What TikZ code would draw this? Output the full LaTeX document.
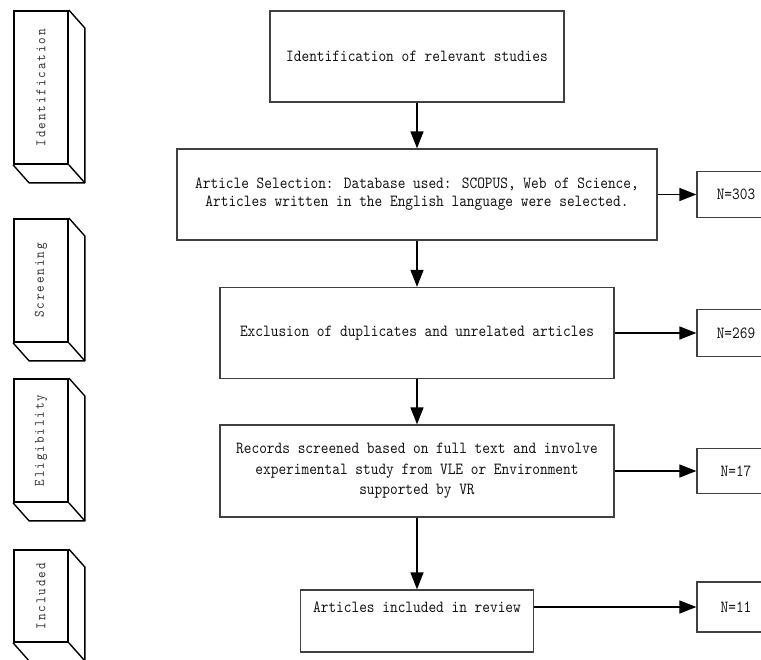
\documentclass[tikz,border=0pt]{standalone}
\usepackage{fontspec}
\newfontfamily\mmono{lmmono10-regular.otf}[FakeStretch=0.862]
\newfontfamily\vmono{lmmono10-regular.otf}[FakeStretch=0.862,LetterSpace=13.4]
\usetikzlibrary{arrows.meta,calc}
\begin{document}
\begin{tikzpicture}[x=1pt,y=-1pt,
  mainbox/.style={draw=black!75, line width=1.3pt, text=black!92, align=center, inner sep=0pt,
    font=\mmono\fontsize{17}{18}\selectfont},
  nbox/.style={mainbox, minimum width=78pt},
  front/.style={draw=black, line width=1.8pt, minimum width=54pt, inner sep=0pt},
  depth/.style={draw=black, line width=1.4pt, line join=round},
  vlabel/.style={rotate=90, text=black!80, inner sep=0pt, font=\vmono\fontsize{14.5}{14.5}\selectfont},
  arr/.style={draw=black, line width=1.5pt, -{Triangle[length=17pt,width=13pt]}}]
\useasboundingbox (0,0) rectangle (761,660);
\clip (0,0) rectangle (761,660);

% phase boxes (3D)
\node[front, minimum height=153pt] (f1) at (41,87.5) {};
\node[front, minimum height=123pt] (f2) at (41,280.5) {};
\node[front, minimum height=123pt] (f3) at (41,440.5) {};
\node[front, minimum height=92pt]  (f4) at (41,596) {};
\foreach \f in {f1,f2,f3,f4}{
  \draw[depth] (\f.north east) -- ++(16,18) -- ($(\f.south east)+(16,18)$) -- ($(\f.south west)+(16,18)$) -- (\f.south west);
  \draw[depth] (\f.south east) -- ++(16,18);
}
\node[vlabel] (t1) at (f1) {Identification};
\node[vlabel] (t2) at (f2) {Screening};
\node[vlabel] (t3) at (f3) {Eligibility};
\node[vlabel] (t4) at (f4) {Included};

% main flow
\node[mainbox, minimum width=294pt, minimum height=91pt] (b1) at (417,56.5) {Identification of relevant studies};
\node[mainbox, minimum width=480pt, minimum height=91pt] (b2) at (417,194.5)
  {Article Selection: Database used: SCOPUS, Web of Science,\\Articles written in the English language were selected.};
\node[mainbox, minimum width=394pt, minimum height=91pt] (b3) at (417,333) {Exclusion of duplicates and unrelated articles};
\node[mainbox, minimum width=394pt, minimum height=92pt, font=\mmono\fontsize{17}{20.5}\selectfont] (b4) at (417,471)
  {Records screened based on full text and involve\\experimental study from VLE or Environment\\supported by VR};
\node[mainbox, minimum width=233pt, minimum height=62pt] (b5) at (417,621) {};
\node[text=black!92, inner sep=0pt, font=\mmono\fontsize{17}{18}\selectfont] (b5t) at (417,607) {Articles included in review};

% counts
\node[nbox, minimum height=46pt] (n1) at (736,194.5) {N=303};
\node[nbox, minimum height=47pt] (n2) at (736,333) {N=269};
\node[nbox, minimum height=45pt] (n3) at (736,471) {N=17};
\node[nbox, minimum height=50pt] (n4) at (736,607) {N=11};

% connectors
\draw[arr] (b1.south) -- (b2.north);
\draw[arr] (b2.south) -- (b3.north);
\draw[arr] (b3.south) -- (b4.north);
\draw[arr] (b4.south) -- (b5.north);
\draw[arr] (b2.east) -- (n1.west);
\draw[arr] (b3.east) -- (n2.west);
\draw[arr] (b4.east) -- (n3.west);
\draw[arr] (b5.east |- n4.west) -- (n4.west);
\end{tikzpicture}
\end{document}
